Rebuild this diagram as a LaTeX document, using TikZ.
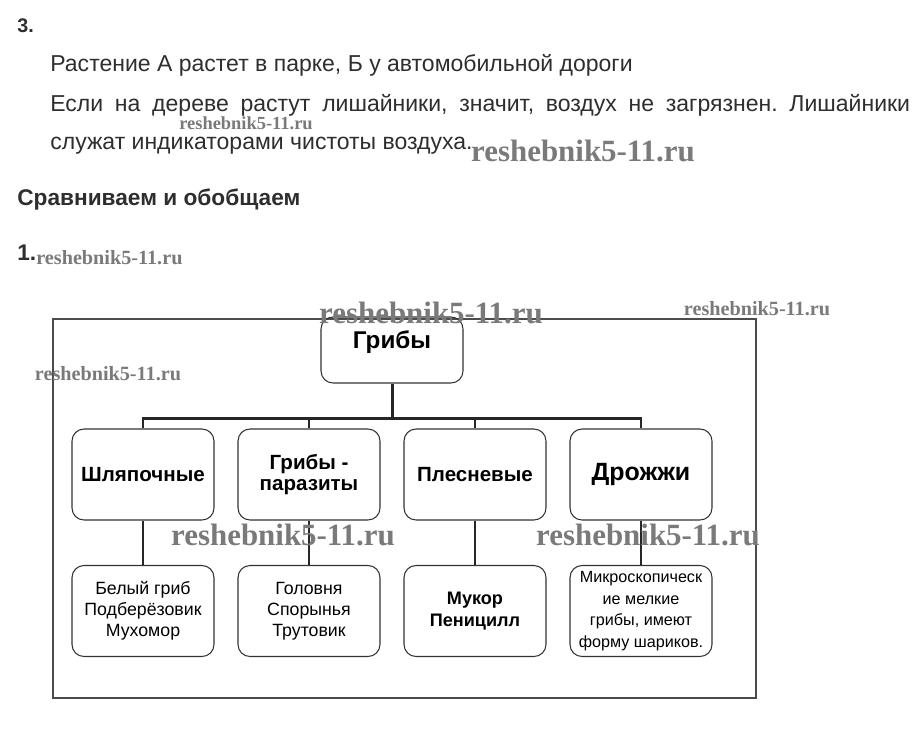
\documentclass[tikz,border=0pt]{standalone}
\usepackage{fontspec}
\setmainfont{Liberation Sans}
\newfontfamily\wmfont{Liberation Serif}
\definecolor{txtgray}{HTML}{2E2E2E}
\definecolor{wmgray}{HTML}{7A7A7A}
\frenchspacing

\tikzset{
  gbox/.style={draw=black!80, line width=0.6pt, rounded corners=0.24cm,
    minimum width=2.84cm, minimum height=1.82cm, align=center, inner sep=0pt},
  topbox/.style={gbox, minimum height=1.32cm},
  link/.style={draw=black!85, line width=1.1pt},
  busline/.style={draw=black!85, line width=1.7pt},
  wmark/.style={font=\wmfont\bfseries\fontsize{11.5pt}{12pt}\selectfont, text=wmgray, inner sep=0pt},
  bigwmark/.style={wmark, font=\wmfont\bfseries\fontsize{17.6pt}{18pt}\selectfont},
  bodytext/.style={anchor=base west, inner sep=0pt, text=txtgray, font=\fontsize{13.1pt}{15pt}\selectfont},
  headtext/.style={anchor=base west, inner sep=0pt, text=txtgray, font=\bfseries\fontsize{12.9pt}{15pt}\selectfont},
  kind/.style={font=\bfseries\fontsize{11.7pt}{12pt}\selectfont},
  example/.style={font=\fontsize{10.1pt}{12pt}\selectfont},
}

\begin{document}
\begin{tikzpicture}[x=0.02cm, y=-0.02cm]
\useasboundingbox (0,0) rectangle (922,747);

\node[headtext, font=\bfseries\fontsize{11.2pt}{12pt}\selectfont] (num3) at (17,32) {3.};
\node[bodytext] (line1) at (50,71) {Растение А растет в парке, Б у автомобильной дороги};
\node[bodytext] (line2) at (50,111) {\makebox[17.2cm][s]{Если на дереве растут лишайники, значит, воздух не загрязнен. Лишайники}};
\node[bodytext] (line3) at (50,149) {служат индикаторами чистоты воздуха.};

\node[headtext] (head) at (17,205) {Сравниваем и обобщаем};
\node[headtext] (num1) at (17,260) {1.};

\draw[draw=black!70, line width=0.6pt] (53,319) rectangle (756,698);

\node[topbox] (root) at (392,350) {};
\node[anchor=base, inner sep=0pt, font=\bfseries\fontsize{13.8pt}{15pt}\selectfont] (rootlbl) at (392,348) {Грибы};

\node[gbox, kind] (cap) at (143,474.5) {Шляпочные};
\node[gbox, kind] (para) at (309,474.5) {Грибы -\\паразиты};
\node[gbox, kind] (mould) at (475,474.5) {Плесневые};
\node[gbox, kind, font=\bfseries\fontsize{14.2pt}{15pt}\selectfont] (yeast) at (641,474.5) {Дрожжи};

\node[gbox, example] (capex) at (143,611) {Белый гриб\\Подберёзовик\\Мухомор};
\node[gbox, example] (paraex) at (309,611) {Головня\\Спорынья\\Трутовик};
\node[gbox, example, font=\bfseries\fontsize{10.3pt}{12.4pt}\selectfont] (mouldex) at (475,611) {Мукор\\Пеницилл};
\node[gbox, example, font=\fontsize{9.2pt}{12.2pt}\selectfont] (yeastex) at (641,611) {Микроскопическ\\ие мелкие\\грибы, имеют\\форму шариков.};

\coordinate (bus) at (392,418);
\path[busline] (root) -- (bus);
\path[link] (cap.north) |- (bus);
\path[link] (para.north) |- (bus);
\path[link] (mould.north) |- (bus);
\path[link] (yeast.north) |- (bus);
\path[busline] (cap.north |- bus) -- (yeast.north |- bus);

\path[link] (cap) -- (capex);
\path[link] (para) -- (paraex);
\path[link] (mould) -- (mouldex);
\path[link] (yeast) -- (yeastex);

\node[wmark, anchor=base, font=\wmfont\bfseries\fontsize{10.5pt}{12pt}\selectfont] (wm1) at (246,129) {reshebnik5-11.ru};
\node[bigwmark] (wm2) at (583,151) {reshebnik5-11.ru};
\node[wmark, anchor=west] (wm3) at (36,258) {reshebnik5-11.ru};
\node[wmark] (wm4) at (108,374) {reshebnik5-11.ru};
\node[wmark] (wm5) at (757,309) {reshebnik5-11.ru};
\node[bigwmark] (wm6) at (431,313) {reshebnik5-11.ru};
\node[bigwmark] (wm7) at (283,535) {reshebnik5-11.ru};
\node[bigwmark] (wm8) at (648,535) {reshebnik5-11.ru};
\end{tikzpicture}
\end{document}
